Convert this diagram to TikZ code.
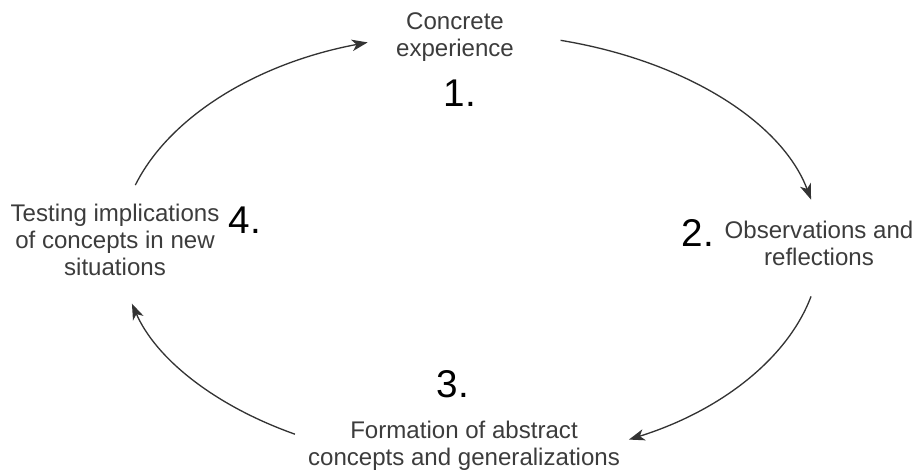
\documentclass[tikz,border=0pt]{standalone}
\usepackage{fontspec}
\setmainfont{Liberation Sans}
\usepackage{tikz}
\usetikzlibrary{positioning, arrows.meta, calc}
\usepackage{xcolor}
\definecolor{kbtext}{HTML}{3C3C3C}
\definecolor{kbarrow}{HTML}{333333}
\definecolor{kbnum}{HTML}{000000}

\begin{document}
\begin{tikzpicture}[
    stage/.style={text=kbtext, align=center, inner sep=0pt,
                  font=\fontsize{13.7}{15.4}\selectfont},
    stagenum/.style={text=kbnum, inner sep=0pt,
                     font=\fontsize{22}{22}\selectfont},
    cyc/.style={draw=kbarrow, line width=0.75pt,
                -{Stealth[length=9pt, width=6.5pt, inset=2.5pt]}}]
    \useasboundingbox (0,0) rectangle (18.34,9.46);
    % the four stages
    \node[stage] (exp) at (9.10,8.72) {Concrete\\experience};
    \node[stage] (obs) at (16.38,4.60) {Observations and\\reflections};
    \node[stage] (abs) at (9.28,0.54) {Formation of abstract\\concepts and generalizations};
    \node[stage] (test) at (2.30,4.66) {Testing implications\\of concepts in new\\situations};
    % hand written numbers
    \node[stagenum] (n1) at (9.20,7.60) {1.};
    \node[stagenum] (n2) at (13.96,4.80) {2.};
    \node[stagenum] (n3) at (9.06,1.78) {3.};
    \node[stagenum] (n4) at (4.90,5.06) {4.};
    % cycle
    \coordinate (mid) at (9.40,4.50);
    \coordinate (a1) at ([shift={(163:7cm and 4.3cm)}]mid);
    \coordinate (a2) at ([shift={(75:7cm and 4.3cm)}]mid);
    \coordinate (a3) at ([shift={(-13:7cm and 4.3cm)}]mid);
    \coordinate (a4) at ([shift={(-120:7cm and 4.3cm)}]mid);
    \draw[cyc] (a1) arc[start angle=163, end angle=107, x radius=7cm, y radius=4.3cm];
    \draw[cyc] (a2) arc[start angle=75, end angle=13, x radius=7cm, y radius=4.3cm];
    \draw[cyc] (a3) arc[start angle=-13, end angle=-63, x radius=7cm, y radius=4.3cm];
    \draw[cyc] (a4) arc[start angle=-120, end angle=-165, x radius=7cm, y radius=4.3cm];
\end{tikzpicture}
\end{document}
